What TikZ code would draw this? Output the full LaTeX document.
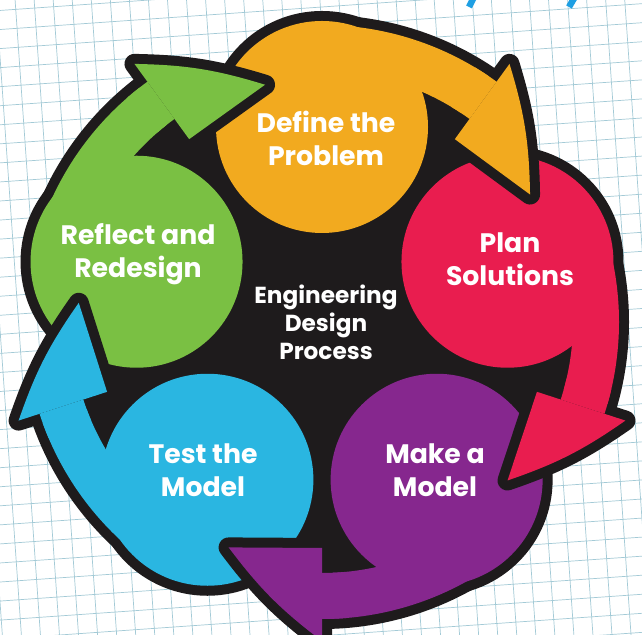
\documentclass[tikz,border=0pt]{standalone}
\usepackage{fontspec}
\setmainfont{Poppins}
\definecolor{gridblue}{HTML}{A3CAD6}
\definecolor{inkblack}{HTML}{1E1B1C}
\definecolor{defineorange}{HTML}{F2AA1F}
\definecolor{planred}{HTML}{E91D4F}
\definecolor{makepurple}{HTML}{86278E}
\definecolor{testblue}{HTML}{2AB6E1}
\definecolor{reflectgreen}{HTML}{7AC043}
\definecolor{titleblue}{HTML}{1E9FE3}
\tikzset{
    gridline/.style={draw=gridblue, line width=0.5pt, step=0.475cm},
    outline/.style={draw=inkblack, line width=0.5cm, line join=round},
    steplabel/.style={text=white, font=\bfseries\fontsize{19}{23.5}\selectfont, align=center},
    centrelabel/.style={text=white, font=\bfseries\fontsize{16.5}{20}\selectfont, align=center},
}
\def\ringr{195}   % distance of the step circles from the centre
\def\blobr{106}   % radius of a step circle
\def\bandin{251}  % inner edge of the arrow band
\def\bandout{297} % outer edge of the arrow band
\def\barbin{226}
\def\barbout{319}
\def\tipr{244}
\begin{document}
\begin{tikzpicture}[x=0.025cm, y=0.025cm]
    \useasboundingbox (0,0) rectangle (642,635);
    \clip (0,0) rectangle (642,635);
    % grid paper
    \fill[white] (0,0) rectangle (642,635);
    \draw[gridline, rotate around={4:(321,317)}] (-150,-150) grid (800,800);
    % bits of the cut-off title
    \draw[titleblue, line width=0.16cm] (475,640) -- (469,628);
    \draw[titleblue, line width=0.16cm] (576,640) -- (569,628);
    \begin{scope}[shift={(322,313)}]
        \fill[inkblack] (0,0) circle[radius=252];
        % circles and bands: outlines first, fills on top
        \foreach \ang in {90,18,-54,-126,-198}{
            \pgfmathsetmacro\headang{\ang-36}
            \draw[outline] (\ang:\ringr) circle[radius=\blobr];
            \draw[outline] (\ang:\bandout) arc[start angle=\ang, end angle=\headang, radius=\bandout]
                -- (\headang:\bandin) arc[start angle=\headang, end angle=\ang, radius=\bandin] -- cycle;
        }
        \foreach \ang/\stepcol in {90/defineorange, 18/planred, -54/makepurple, -126/testblue, -198/reflectgreen}{
            \pgfmathsetmacro\headang{\ang-36}
            \fill[\stepcol] (\ang:\ringr) circle[radius=\blobr];
            \fill[\stepcol] (\ang:\bandout) arc[start angle=\ang, end angle=\headang, radius=\bandout]
                -- (\headang:\bandin) arc[start angle=\headang, end angle=\ang, radius=\bandin] -- cycle;
        }
        % arrow heads lie over the next circle
        \foreach \ang/\stepcol in {90/defineorange, 18/planred, -54/makepurple, -126/testblue, -198/reflectgreen}{
            \pgfmathsetmacro\headang{\ang-36}
            \pgfmathsetmacro\tipang{\ang-58.5}
            \pgfmathsetmacro\fixang{\ang-31}
            \draw[outline] (\headang:\barbout) to[bend left=8] (\tipang:\tipr) -- (\headang:\barbin) -- cycle;
            \fill[\stepcol] (\headang:\barbout) to[bend left=8] (\tipang:\tipr) -- (\headang:\barbin) -- cycle;
            \fill[\stepcol] (\fixang:\bandout) arc[start angle=\fixang, end angle=\headang, radius=\bandout]
                -- (\headang:\bandin) arc[start angle=\headang, end angle=\fixang, radius=\bandin] -- cycle;
        }
    \end{scope}
    % labels
    \node[steplabel] (define) at (326,497) {Define the\\Problem};
    \node[steplabel] (plan) at (510,376) {Plan\\Solutions};
    \node[steplabel] (make) at (435,165) {Make a\\Model};
    \node[steplabel] (test) at (203,165) {Test the\\Model};
    \node[steplabel] (reflect) at (138,381) {Reflect and\\Redesign};
    \node[centrelabel] (process) at (326,313) {Engineering\\Design\\Process};
\end{tikzpicture}
\end{document}
